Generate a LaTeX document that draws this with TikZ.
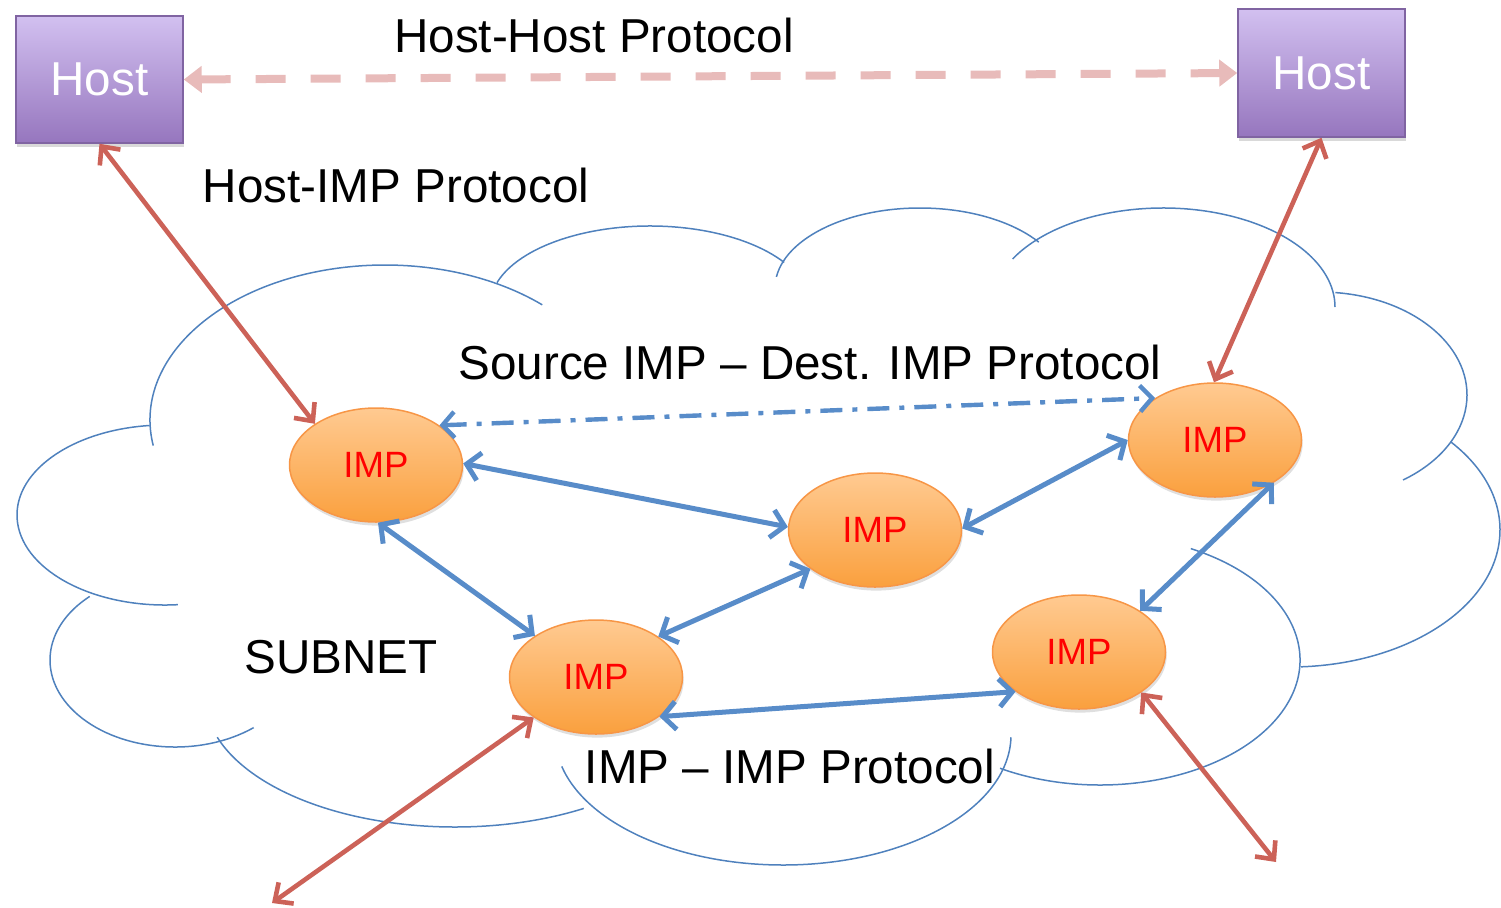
\documentclass[tikz,border=0pt]{standalone}
\usepackage{fontspec}
\setmainfont{Liberation Sans}
\usetikzlibrary{arrows.meta,shapes.geometric,shadows}
\definecolor{cloudblue}{RGB}{79,129,189}
\definecolor{arrowblue}{RGB}{88,140,201}
\definecolor{arrowred}{RGB}{204,98,88}
\definecolor{pinkdash}{RGB}{232,187,186}
\definecolor{hosttop}{RGB}{210,192,240}
\definecolor{hostbot}{RGB}{150,118,190}
\definecolor{hostborder}{RGB}{128,100,162}
\definecolor{imptop}{RGB}{255,202,145}
\definecolor{impbot}{RGB}{250,160,62}
\definecolor{impborder}{RGB}{247,150,70}
\tikzset{
  hostbox/.style={draw=hostborder, line width=0.75pt, top color=hosttop, bottom color=hostbot,
    text=white, font=\fontsize{23.8}{28}\selectfont, inner sep=0pt,
    minimum width=83.5pt, minimum height=63.5pt,
    drop shadow={opacity=0.3, shadow xshift=0.6pt, shadow yshift=-1.8pt}},
  impnode/.style={ellipse, draw=impborder, line width=0.75pt, top color=imptop, bottom color=impbot,
    text=red, font=\fontsize{18.3}{22}\selectfont, inner sep=0pt,
    minimum width=86.5pt, minimum height=57pt,
    drop shadow={opacity=0.25, shadow xshift=0.6pt, shadow yshift=-1.8pt}},
  lbl/.style={font=\fontsize{23.8}{28}\selectfont, inner sep=0pt},
  cloudline/.style={draw=cloudblue, line width=0.75pt},
  bluearrow/.style={draw=arrowblue, line width=2.5pt, line cap=round,
    >={Straight Barb[length=6.5pt,width=14pt]}, <->},
  dashdotarrow/.style={draw=arrowblue, line width=2.2pt,
    dash pattern=on 11pt off 5pt on 2.5pt off 5pt,
    >={Straight Barb[length=6pt,width=13pt]}, <->},
  redarrow/.style={draw=arrowred, line width=2.3pt, line cap=round,
    >={Straight Barb[length=7pt,width=13pt]}, <->},
  pinkarrow/.style={draw=pinkdash, line width=4pt,
    dash pattern=on 15pt off 12.5pt,
    >={Triangle[length=9pt,width=13pt]}, <->}
}
% one lobe of the cloud: centre x, centre y, x radius, y radius, start angle, end angle
\newcommand\cloudlobe[6]{\draw[cloudline] ([shift={(#5:#3 and #4)}]#1,#2) arc[start angle=#5, end angle=#6, x radius=#3, y radius=#4];}
\begin{document}
\begin{tikzpicture}[x=0.5pt, y=-0.5pt]
\useasboundingbox (0,0) rectangle (1501,907);

% cloud
\cloudlobe{385}{420}{235}{155}{170.5}{312}
\cloudlobe{650}{306}{160}{80}{197}{327}
\cloudlobe{920}{288}{145}{80}{188}{325}
\cloudlobe{1163}{307}{172}{99}{209}{360}
\cloudlobe{1320}{395}{147}{103}{-84}{55.6}
\cloudlobe{1290}{530}{210}{137}{-40}{87}
\cloudlobe{1100}{660}{200}{125}{-63}{120}
\cloudlobe{783}{735}{228}{130}{1}{166}
\cloudlobe{455}{697}{250}{130}{59}{162}
\cloudlobe{175}{660}{125}{87}{51}{227}
\cloudlobe{165}{515}{148}{90}{85}{264}

% nodes
\node[hostbox] (h1) at (99.5,79.5) {Host};
\node[hostbox, minimum height=64pt] (h2) at (1321.5,73) {Host};
\node[impnode] (i1) at (376,465) {IMP};
\node[impnode] (i2) at (875,530) {IMP};
\node[impnode] (i3) at (1215,440) {IMP};
\node[impnode] (i4) at (596,677) {IMP};
\node[impnode] (i5) at (1079,652) {IMP};
\coordinate (e1) at (272,903);
\coordinate (e2) at (1276,862);

% labels
\node[lbl, anchor=base] (t1) at (594,52) {Host-Host Protocol};
\node[lbl, anchor=base] (t2) at (396,202) {Host-IMP Protocol};
\node[lbl, anchor=base] (t3) at (810,379) {Source IMP \textendash\ Dest. IMP Protocol};
\node[lbl, anchor=base] (t4) at (341,673) {SUBNET};
\node[lbl, anchor=base] (t5) at (790,783) {IMP \textendash\ IMP Protocol};

% connectors
\draw[pinkarrow] (h1.east) -- (h2.west);
\draw[redarrow] (h1.south) -- (i1.146);
\draw[redarrow] (h2.south) -- (i3.91);
\draw[redarrow] (i4.213) -- (e1);
\draw[redarrow] (i5.-33) -- (e2);
\draw[dashdotarrow] (i1.32) -- (i3.145);
\draw[bluearrow] (i1.1) -- (i2.178);
\draw[bluearrow] (i1.-88) -- (i4.146);
\draw[bluearrow] (i4.33) -- (i2.211);
\draw[bluearrow] (i2.1) -- (i3.180);
\draw[bluearrow] (i3.-36) -- (i5.34);
\draw[bluearrow] (i4.-32) -- (i5.212);
\end{tikzpicture}
\end{document}
